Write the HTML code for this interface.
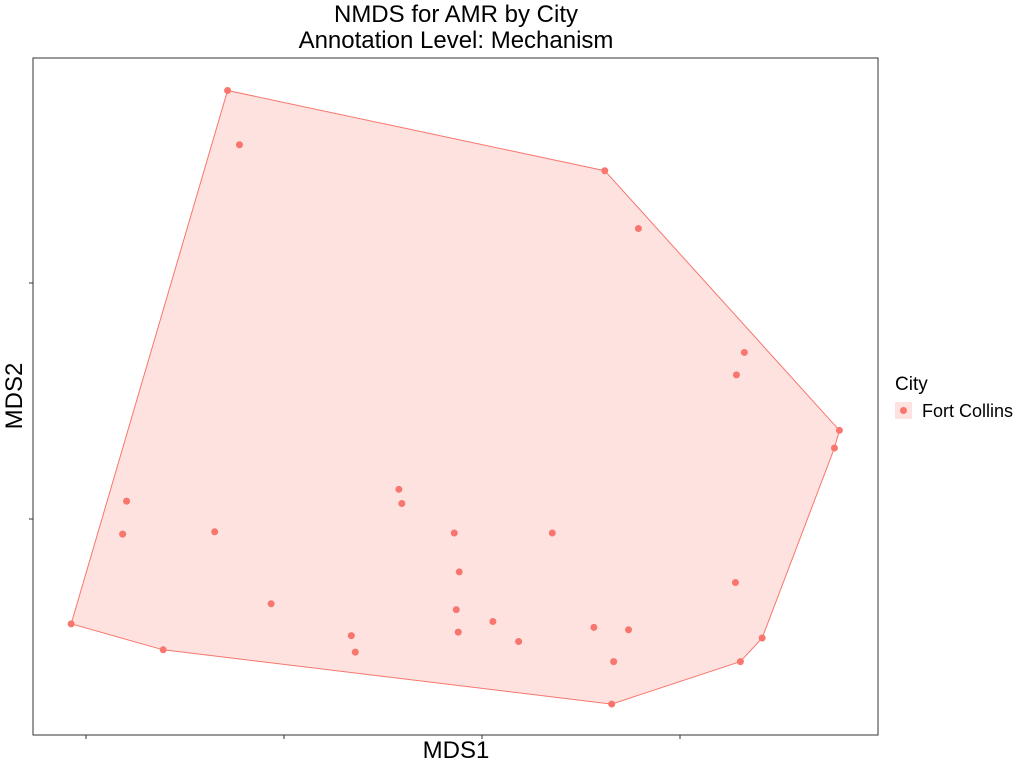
<!DOCTYPE html>
<html><head><meta charset="utf-8"><style>
body{margin:0;background:#fff;font-family:"Liberation Sans",sans-serif}
</style></head><body>
<svg id="chart" width="1024" height="768" xmlns="http://www.w3.org/2000/svg" font-family="Liberation Sans, sans-serif">
<text x="456" y="22" font-size="24" text-anchor="middle">NMDS for AMR by City</text>
<text x="456" y="48" font-size="24" text-anchor="middle">Annotation Level: Mechanism</text>
<rect x="33" y="58" width="845" height="677" fill="#fff" stroke="#333" stroke-width="1"/>
<g id="marks"></g>
<g id="ticks"></g>
<text x="456" y="758" font-size="24" text-anchor="middle">MDS1</text>
<text x="22" y="396" font-size="24" text-anchor="middle" transform="rotate(-90 22 396)">MDS2</text>
<text x="895" y="390" font-size="19">City</text>
<rect x="895" y="402" width="17" height="17" fill="#fde2e0"/>
<circle cx="903.5" cy="410.5" r="3.5" fill="#f8766d"/>
<text x="922" y="417" font-size="18">Fort Collins</text>
</svg>
<script>
const mds1 = [-0.257,-0.245,0.124,0.158,0.265,0.257,0.361,0.356,-0.359,-0.363,-0.270,-0.084,-0.081,-0.028,0.071,-0.023,-0.213,-0.026,0.011,-0.024,-0.132,-0.128,0.037,0.113,0.148,0.256,0.283,0.261,0.133,0.131,-0.415,-0.322];
const mds2 = [0.164,0.118,0.096,0.047,-0.058,-0.077,-0.124,-0.139,-0.184,-0.212,-0.210,-0.174,-0.186,-0.211,-0.211,-0.244,-0.271,-0.276,-0.286,-0.295,-0.298,-0.312,-0.303,-0.291,-0.293,-0.253,-0.300,-0.320,-0.320,-0.356,-0.288,-0.310];
const xTicks = [-0.4,-0.2,0,0.2];
const yTicks = [0,-0.2];
const sx = v => 482 + v*990;
const sy = v => 284 - v*1180;
const NS="http://www.w3.org/2000/svg";
const marks=document.getElementById('marks'), ticks=document.getElementById('ticks');
let pts = mds1.map((x,i)=>[sx(x),sy(mds2[i])]);
let s=[...pts].sort((a,b)=>a[0]-b[0]||a[1]-b[1]);
const cr=(o,a,b)=>(a[0]-o[0])*(b[1]-o[1])-(a[1]-o[1])*(b[0]-o[0]);
let lo=[],up=[];
for(const p of s){while(lo.length>=2&&cr(lo[lo.length-2],lo[lo.length-1],p)<=0)lo.pop();lo.push(p);}
for(const p of s.slice().reverse()){while(up.length>=2&&cr(up[up.length-2],up[up.length-1],p)<=0)up.pop();up.push(p);}
const hull=lo.slice(0,-1).concat(up.slice(0,-1));
const poly=document.createElementNS(NS,'polygon');


poly.setAttribute('points',hull.map(p=>p.join(',')).join(' '));
poly.setAttribute('fill','#fde2e0');poly.setAttribute('stroke','#f8766d');poly.setAttribute('stroke-width','1');
marks.appendChild(poly);
pts.forEach(p=>{const c=document.createElementNS(NS,'circle');


c.setAttribute('cx',p[0]);c.setAttribute('cy',p[1]);c.setAttribute('r','3.5');c.setAttribute('fill','#f8766d');marks.appendChild(c);});
xTicks.forEach(t=>{const l=document.createElementNS(NS,'line');


l.setAttribute('x1',sx(t));l.setAttribute('x2',sx(t));l.setAttribute('y1',735);l.setAttribute('y2',739);l.setAttribute('stroke','#333');ticks.appendChild(l);});
yTicks.forEach(t=>{const l=document.createElementNS(NS,'line');


l.setAttribute('y1',sy(t)-1);l.setAttribute('y2',sy(t)-1);l.setAttribute('x1',29);l.setAttribute('x2',33);l.setAttribute('stroke','#333');ticks.appendChild(l);});
</script>
</body></html>
